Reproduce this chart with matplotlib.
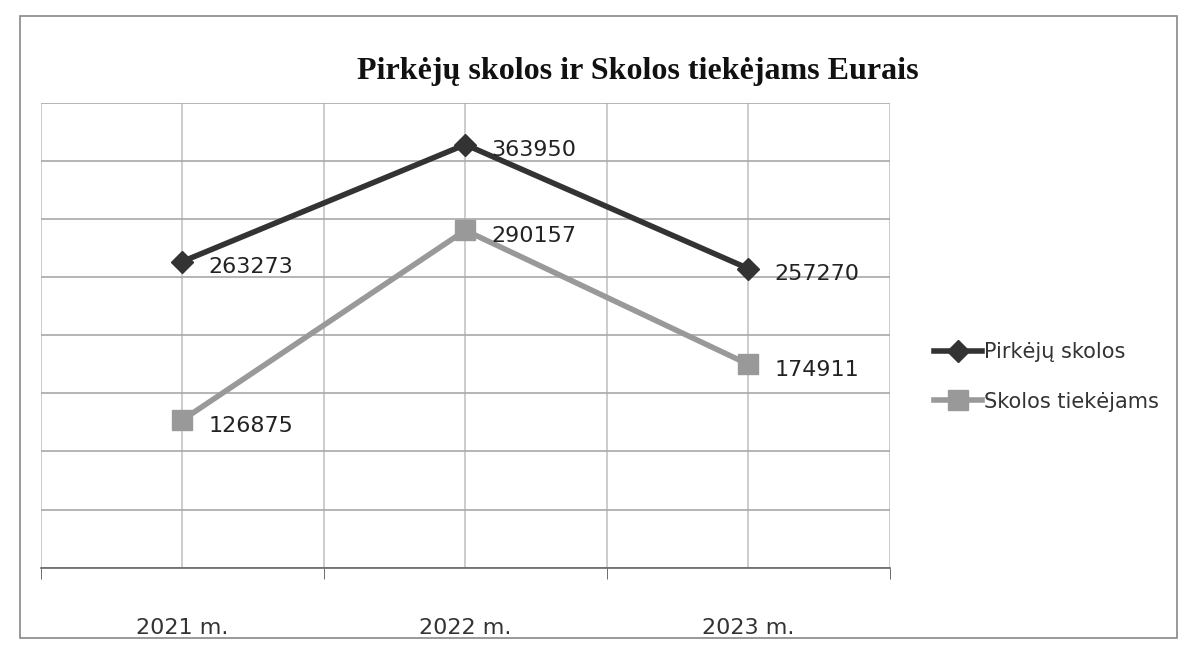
import matplotlib.pyplot as plt
from matplotlib.patches import Rectangle

years = ["2021 m.", "2022 m.", "2023 m."]
pirkeju = [263273, 363950, 257270]
tiekejams = [126875, 290157, 174911]

fig = plt.figure(figsize=(11.93, 6.54), dpi=100)
ax = fig.add_axes([0.034, 0.132, 0.712, 0.711])

x = range(len(years))
ax.plot(x, pirkeju, color="#333333", lw=4, marker="D", markersize=11,
        label="Pirkėjų skolos", zorder=3)
ax.plot(x, tiekejams, color="#999999", lw=4, marker="s", markersize=15,
        label="Skolos tiekėjams", zorder=3)

for xi, v in zip(x, pirkeju):
    ax.annotate(str(v), (xi, v), xytext=(19, -4), textcoords="offset points",
                va="center", ha="left", fontsize=16, color="#222222")
for xi, v in zip(x, tiekejams):
    ax.annotate(str(v), (xi, v), xytext=(19, -4), textcoords="offset points",
                va="center", ha="left", fontsize=16, color="#222222")

ax.set_xlim(-0.5, 2.5)
ax.set_ylim(0, 400000)
ax.set_yticks(range(0, 400001, 50000))
ax.set_yticklabels([])
ax.tick_params(axis="y", length=0)

# grid: horizontal lines plus vertical lines at centres and boundaries
ax.grid(axis="y", color="#a8a8a8", lw=1.2)
for b in [-0.5, 0.5, 1.5, 2.5]:
    ax.axvline(b, color="#c4c4c4", lw=1.2, zorder=0)
for c in x:
    ax.axvline(c, color="#c4c4c4", lw=1.2, zorder=0)

ax.set_xticks([-0.5, 0.5, 1.5, 2.5], minor=True)
ax.set_xticks(list(x))
ax.set_xticklabels(years, fontsize=16, color="#333333")
ax.tick_params(axis="x", which="major", length=0, pad=36)
ax.tick_params(axis="x", which="minor", length=8, color="#555555")

for s in ["top", "right", "left"]:
    ax.spines[s].set_visible(False)
ax.spines["bottom"].set_color("#666666")
ax.spines["bottom"].set_linewidth(1.2)

fig.text(0.535, 0.89, "Pirkėjų skolos ir Skolos tiekėjams Eurais",
         ha="center", va="center", fontsize=23, fontweight="bold",
         family="Liberation Serif", color="#111111")

leg = ax.legend(loc="center left", bbox_to_anchor=(1.03, 0.41), frameon=False,
                fontsize=15, handlelength=2.3, handletextpad=0.1, labelspacing=1.4)
for t in leg.get_texts():
    t.set_color("#333333")

fig.patches.append(Rectangle((0.017, 0.025), 0.97, 0.95, transform=fig.transFigure,
                             fill=False, edgecolor="#888888", lw=1.2))

fig.savefig("out.png", dpi=100)
